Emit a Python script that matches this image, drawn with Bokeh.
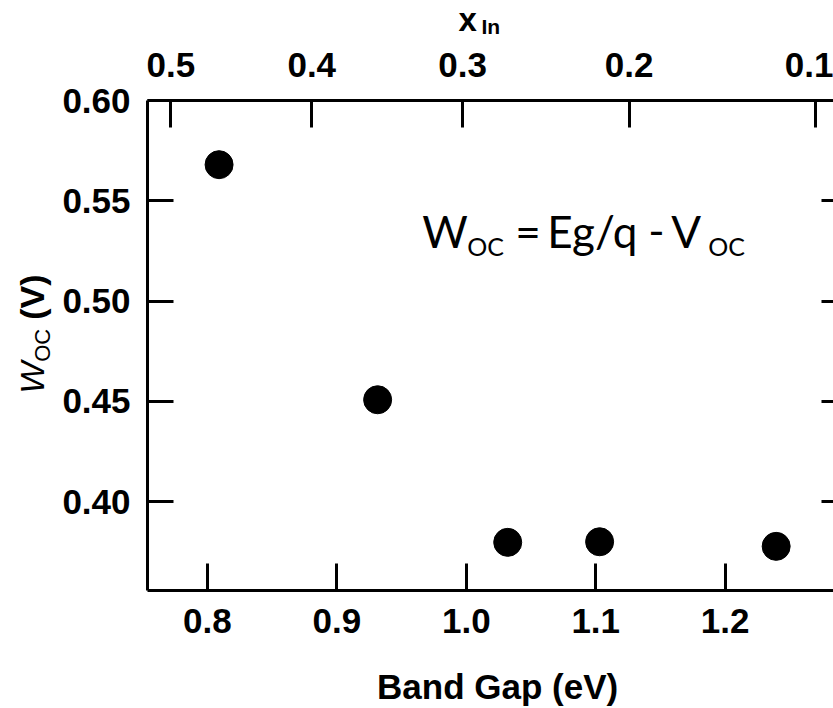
import numpy as np
from bokeh.plotting import figure
from bokeh.layouts import column, row
from bokeh.models import Range1d, LinearAxis, FixedTicker, NumeralTickFormatter, Label
from bokeh.core.properties import value
from bokeh.embed import file_html
from bokeh.resources import INLINE

# ---- data ----
band_gap = [0.809, 0.9315, 1.032, 1.103, 1.2394]          # eV
w_oc = [0.568, 0.4508, 0.3797, 0.3800, 0.3777]            # V

bottom_ticks = [0.8, 0.9, 1.0, 1.1, 1.2]
left_ticks = [0.40, 0.45, 0.50, 0.55, 0.60]
x_in_labels = ["0.5", "0.4", "0.3", "0.2", "0.1"]
x_in_tick_band_gap = [0.7717, 0.8806, 0.9972, 1.1258, 1.2698]

x_start, x_end = 0.7537, 1.2837
y_start, y_end = 0.3557, 0.60

FONT = "Liberation Sans"
K_LIB = 0.3465   # vertical centring shift of the text renderer (em), Liberation Sans
K_LATO = 0.387   # same for Lato

TOP_H = 38      # strip holding the top axis title
LEFT_W = 56     # strip holding the rotated y-axis title
W_TOTAL, H_TOTAL = 833, 708
FRAME_H = 490
PX_PER_V = FRAME_H / (y_end - y_start)

y_range = Range1d(y_start, y_end)

p = figure(width=W_TOTAL - LEFT_W, height=H_TOTAL - TOP_H,
           output_backend="svg", toolbar_location=None,
           x_range=Range1d(x_start, x_end), y_range=y_range,
           min_border_left=147 - LEFT_W, min_border_right=0,
           min_border_top=100 - TOP_H, min_border_bottom=118)
p.outline_line_color = None
p.xgrid.visible = False
p.ygrid.visible = False
p.background_fill_color = "white"
p.border_fill_color = "white"


def style(ax, tick_in, standoff):
    ax.axis_line_width = 3
    ax.axis_line_color = "black"
    ax.major_tick_line_width = 3
    ax.major_tick_line_color = "black"
    ax.major_tick_in = tick_in
    ax.major_tick_out = 0
    ax.minor_tick_line_color = None
    ax.major_label_text_font = FONT
    ax.major_label_text_font_style = "bold"
    ax.major_label_text_font_size = "35px"
    ax.major_label_text_color = "black"
    ax.major_label_standoff = standoff


xb = p.xaxis[0]
style(xb, 27, 18)
xb.ticker = FixedTicker(ticks=bottom_ticks)
xb.formatter = NumeralTickFormatter(format="0.0")

yl = p.yaxis[0]
style(yl, 26, 17)
yl.ticker = FixedTicker(ticks=left_ticks)
yl.formatter = NumeralTickFormatter(format="0.00")

top = LinearAxis(ticker=FixedTicker(ticks=x_in_tick_band_gap),
                 major_label_overrides={v: s for v, s in zip(x_in_tick_band_gap, x_in_labels)})
style(top, 27, 24)
p.add_layout(top, "above")

right = LinearAxis(ticker=FixedTicker(ticks=left_ticks))
style(right, 12, 0)
right.axis_line_color = None
right.major_label_text_font_size = "0px"
right.major_label_text_alpha = 0
p.add_layout(right, "right")

p.scatter(band_gap, w_oc, size=28, color="black")


def lab(x, y, text, size, font=FONT, style="normal", xo=0, yo=0,
        align="left", side="center"):
    lbl = Label(x=x, y=y, text=text, x_offset=xo, y_offset=yo,
                text_font=font, text_font_style=style,
                text_font_size=f"{size}px", text_color="black",
                text_align=align, text_baseline="alphabetic")
    if side == "center":
        p.add_layout(lbl)
    else:
        p.add_layout(lbl, side)


# formula annotation (inside the frame)
fx, fy = 0.9668, 0.5265
FF = "Lato"
M, S = 44, 25
lab(fx, fy, "W", M, FF, xo=-1, yo=K_LATO * M)
lab(fx, fy, "OC", S, FF, xo=44, yo=-8 + K_LATO * S)
lab(fx, fy, "=", M, FF, xo=92, yo=K_LATO * M)
lab(fx, fy, "Eg/q", M, FF, xo=124, yo=K_LATO * M)
lab(fx, fy, "-", M, FF, xo=225, yo=K_LATO * M)
lab(fx, fy, "V", M, FF, xo=248, yo=K_LATO * M)
lab(fx, fy, "OC", S, FF, xo=285, yo=-8 + K_LATO * S)

# bottom axis title (in the bottom side panel, so it is not clipped)
lab(1.0242, 0.3019, "Band Gap (eV)", 35, style="bold", align="center",
    side="below", yo=K_LIB * 35)


def strip(w, h, yr=None):
    f = figure(width=w, height=h, output_backend="svg", toolbar_location=None,
               x_range=Range1d(0, w), y_range=yr if yr is not None else Range1d(0, h),
               min_border=0, x_axis_location=None, y_axis_location=None)
    f.outline_line_color = None
    f.background_fill_color = "white"
    f.border_fill_color = "white"
    for g in f.grid:
        g.visible = False
    return f


def txt(f, x, y, s, size, style, angle=0.0):
    f.text(x=[x], y=[y], text=[s], angle=angle, text_font=value(FONT),
           text_font_style=style, text_font_size=value(f"{size}px"),
           text_color="black", text_align="left", text_baseline="alphabetic")


# top title strip:  x_In
top_strip = strip(W_TOTAL, TOP_H)
txt(top_strip, 458, TOP_H - 30 + K_LIB * 33, "x", 33, "bold")
txt(top_strip, 481, TOP_H - 33 + K_LIB * 21, "In", 21, "bold")

# left title strip:  W_OC (V), rotated; its frame lines up with the main frame,
# so it shares the main y range
left_strip = strip(LEFT_W, H_TOTAL - TOP_H, yr=y_range)
y_title = 0.4538       # where the rotated title starts (value on the W_OC scale)
txt(left_strip, 43 - K_LIB * 34, y_title, "W", 34, "italic", np.pi / 2)
txt(left_strip, 50 - K_LIB * 22, y_title + 32 / PX_PER_V, "OC", 22, "normal", np.pi / 2)
txt(left_strip, 43 - K_LIB * 34, y_title + 74 / PX_PER_V, "(V)", 34, "bold", np.pi / 2)

layout = column(top_strip, row(left_strip, p, spacing=0), spacing=0)
open("out.html", "w").write(file_html(layout, INLINE))
